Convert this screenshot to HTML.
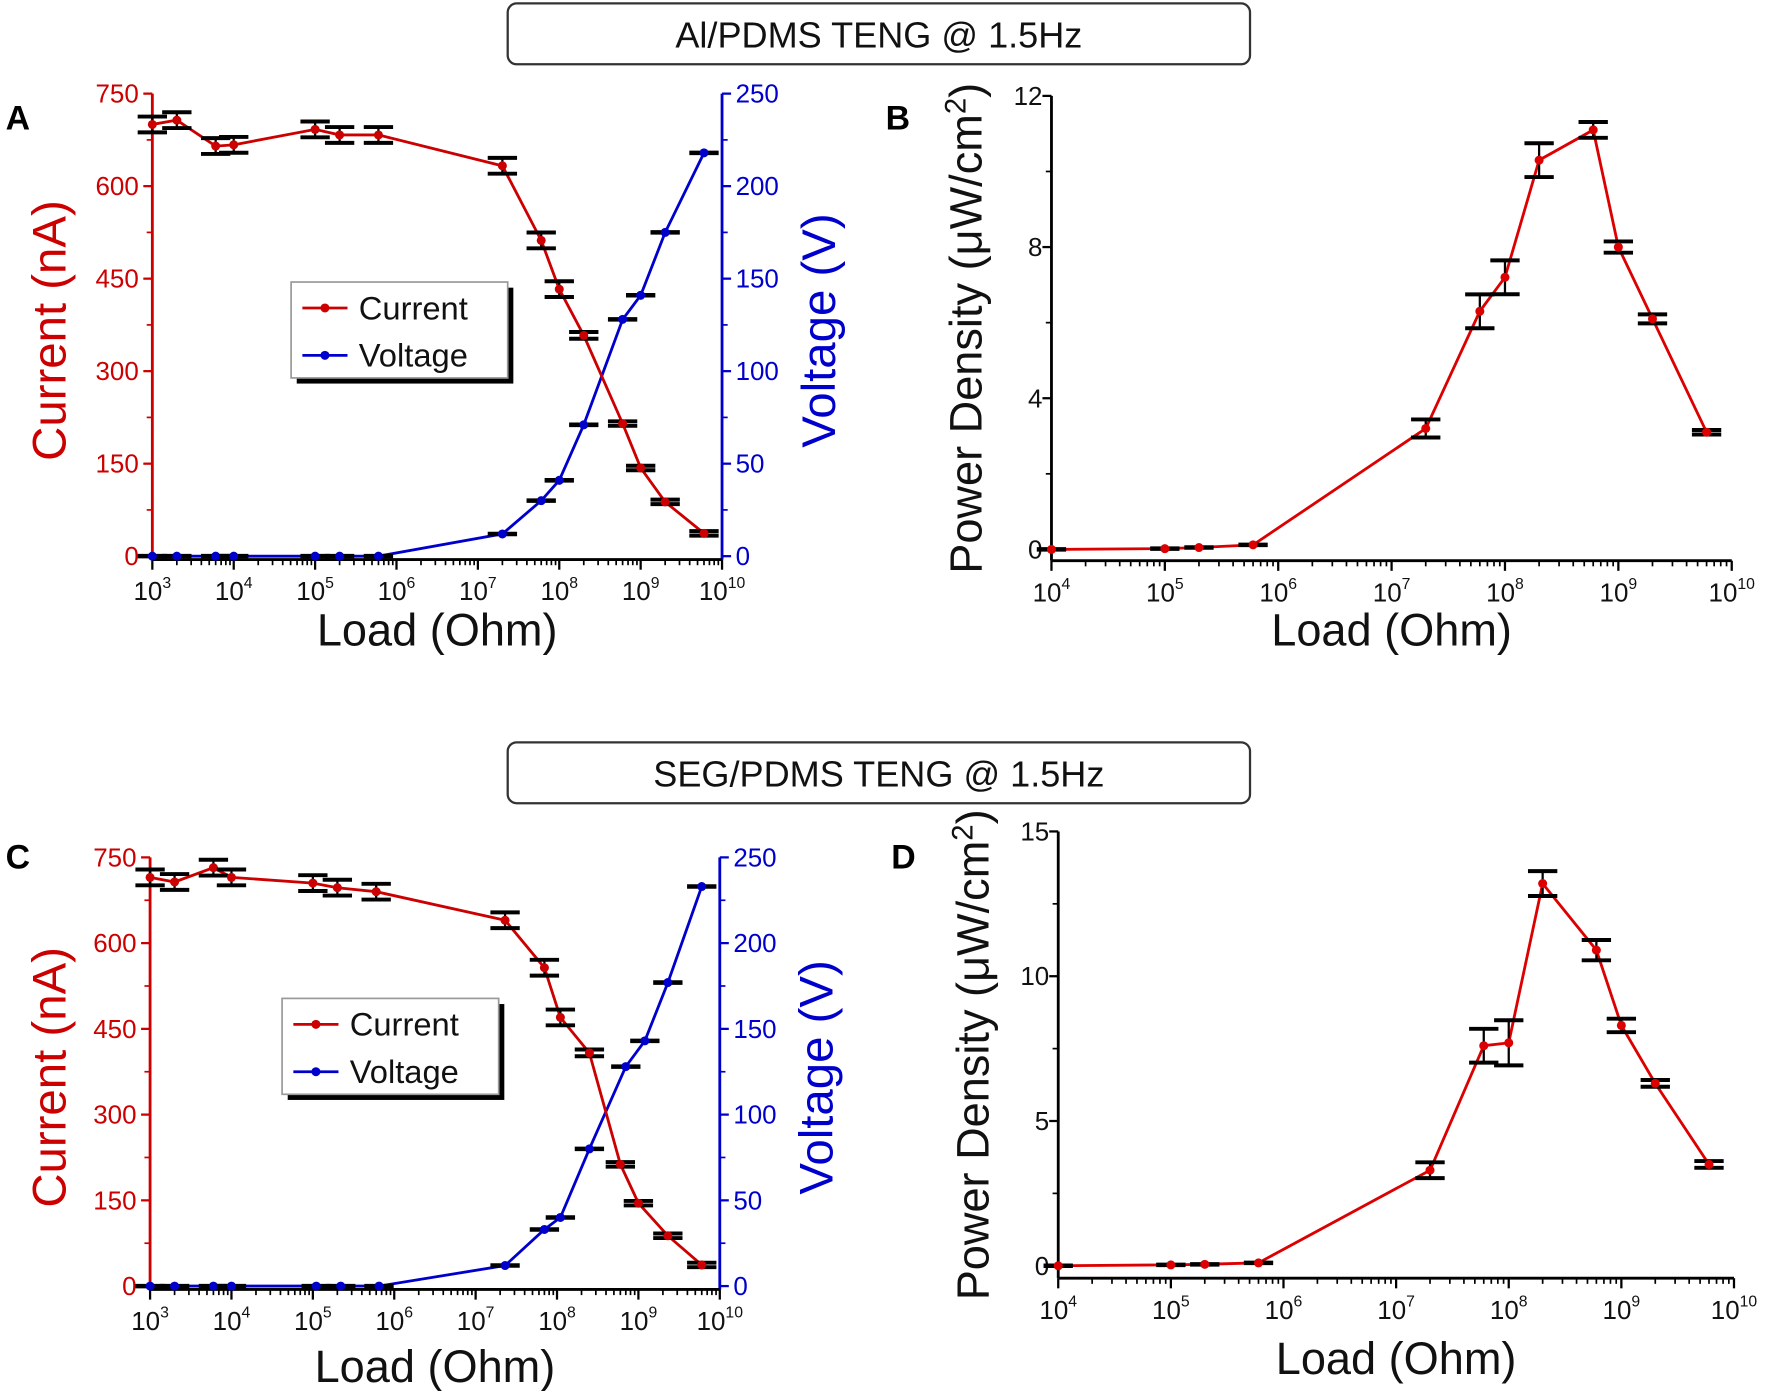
<!DOCTYPE html>
<html><head><meta charset="utf-8"><style>html,body{margin:0;padding:0;background:#fff}svg{display:block}</style></head>
<body>
<svg id="s" xmlns="http://www.w3.org/2000/svg" width="1769" height="1391" viewBox="0 0 1568 1233" font-family="Liberation Sans, Arial, sans-serif"></svg>
<script>
const S=document.getElementById('s');let h='';
function T(x,y,t,sz,col,anc,extra){h+=`<text x="${x}" y="${y}" font-size="${sz}" fill="${col}" text-anchor="${anc||'middle'}" ${extra||''}>${t}</text>`;}
function L(x1,y1,x2,y2,c,w){h+=`<line x1="${x1}" y1="${y1}" x2="${x2}" y2="${y2}" stroke="${c}" stroke-width="${w}"/>`;}
function xaxis(x0,x1,d0,d1,yl){const pd=(x1-x0)/(d1-d0);L(x0,yl,x1,yl,'#000',2.5);
 for(let d=d0;d<=d1;d++){const x=x0+(d-d0)*pd;L(x,yl,x,yl+9,'#000',2);
  T(x,yl+36,`10<tspan dy="-11" font-size="14">${d}</tspan>`,23,'#111');
  if(d<d1)for(let k=2;k<10;k++){const xx=x+Math.log10(k)*pd;L(xx,yl,xx,yl+5,'#000',1.5);}}
 return r=>x0+(Math.log10(r)-d0)*pd;}
function series(fx,fy,data,col,err,ecol){let p=data.map(d=>fx(d[0]).toFixed(1)+','+fy(d[1]).toFixed(1)).join(' ');
 h+=`<polyline points="${p}" fill="none" stroke="${col}" stroke-width="2.5"/>`;
 data.forEach(d=>{const x=fx(d[0]),y=fy(d[1]);const e=d[2]!==undefined?d[2]:err;
  if(e>0){L(x,y-e,x,y+e,ecol,2);L(x-13,y-e,x+13,y-e,ecol,3.5);L(x-13,y+e,x+13,y+e,ecol,3.5);}else{L(x-13,y,x+13,y,ecol,4);}
  h+=`<circle cx="${x}" cy="${y}" r="4" fill="${col}"/>`;});}
function header(y,t){h+=`<rect x="450" y="${y}" width="658" height="54" rx="8" fill="#fff" stroke="#333" stroke-width="2"/>`;T(779,y+39,t,32,'#111','middle');}
function panelIV(o){const{x0,x1,y0,yt,yl,cur,vol,leg,lbl,ly}=o;
 L(x0,yt,x0,yl,'#c00',2.5);L(x1,yt,x1,yl,'#00c',2.5);
 const fc=v=>y0-(v/750)*(y0-yt),fv=v=>y0-(v/250)*(y0-yt);
 for(let v=0;v<=750;v+=150){const y=fc(v);L(x0-8,y,x0,y,'#c00',2);T(x0-12,y+8,v,23,'#c00','end');if(v<750)L(x0-5,fc(v+75),x0,fc(v+75),'#c00',1.5);}
 for(let v=0;v<=250;v+=50){const y=fv(v);L(x1,y,x1+8,y,'#00c',2);T(x1+12,y+8,v,23,'#00c','start');if(v<250)L(x1,fv(v+25),x1+5,fv(v+25),'#00c',1.5);}
 const fx=xaxis(x0,x1,3,10,yl);
 T(58,(yt+y0)/2+5,'Current (nA)',42,'#c00','middle',`transform="rotate(-90 58 ${(yt+y0)/2+5})"`);
 T(x1+100,(yt+y0)/2+5,'Voltage (V)',42,'#00c','middle',`transform="rotate(-90 ${x1+100} ${(yt+y0)/2+5})"`);
 T((x0+x1)/2,ly,'Load (Ohm)',40,'#111');
 series(fx,fv,vol,'#00c',0,'#000');series(fx,fc,cur,'#c00',7,'#000');
 const[lx,lyy]=leg;h+=`<rect x="${lx+5}" y="${lyy+5}" width="192" height="85" fill="#000"/><rect x="${lx}" y="${lyy}" width="192" height="85" fill="#fff" stroke="#999" stroke-width="1.5"/>`;
 L(lx+10,lyy+23,lx+50,lyy+23,'#c00',2.5);h+=`<circle cx="${lx+30}" cy="${lyy+23}" r="4" fill="#c00"/>`;T(lx+60,lyy+33,'Current',29,'#111','start');
 L(lx+10,lyy+65,lx+50,lyy+65,'#00c',2.5);h+=`<circle cx="${lx+30}" cy="${lyy+65}" r="4" fill="#00c"/>`;T(lx+60,lyy+75,'Voltage',29,'#111','start');
 T(5,lbl[1],lbl[0],30,'#000','start','font-weight="bold"');}
function panelP(o){const{x0,x1,y0,yt,yl,max,step,data,lbl,ly,lx}=o;
 L(x0,yt,x0,yl,'#000',2.5);const fy=v=>y0-(v/max)*(y0-yt);
 for(let v=0;v<=max;v+=step){const y=fy(v);L(x0-8,y,x0,y,'#000',2);T(x0-8,y+8,v,23,'#111','end');if(v<max)L(x0-5,fy(v+step/2),x0,fy(v+step/2),'#000',1.5);}
 const fx=xaxis(x0,x1,4,10,yl);
 const cy=(yt+yl)/2;T(x0-62,cy,'Power Density (μW/cm<tspan dy="-14" font-size="26">2</tspan><tspan dy="14">)</tspan>',40,'#111','middle',`transform="rotate(-90 ${x0-62} ${cy})"`);
 T((x0+x1)/2,ly,'Load (Ohm)',40,'#111');
 series(fx,fy,data,'#d00',0,'#000');T(lx,lbl[1],lbl[0],30,'#000','start','font-weight="bold"');}
header(3,'Al/PDMS TENG @ 1.5Hz');header(658,'SEG/PDMS TENG @ 1.5Hz');
panelIV({x0:135,x1:640,y0:493,yt:83,yl:496,ly:572,lbl:['A',115],leg:[258,250],
 cur:[[1e3,700],[2e3,707],[6e3,665],[1e4,667],[1e5,692],[2e5,683],[6e5,683],[2e7,633],[6e7,512],[1e8,433],[2e8,358,3],[6e8,215,2],[1e9,143,2],[2e9,88,2],[6e9,37,2]],
 vol:[[1e3,0],[2e3,0],[6e3,0],[1e4,0],[1e5,0],[2e5,0],[6e5,0],[2e7,12],[6e7,30],[1e8,41],[2e8,71],[6e8,128],[1e9,141],[2e9,175],[6e9,218]]});
panelIV({x0:133,x1:638,y0:1140,yt:760,yl:1143,ly:1225,lbl:['C',770],leg:[250,885],
 cur:[[1e3,715],[2e3,707],[6e3,732],[1e4,715],[1e5,705],[2e5,697],[6e5,690],[2.3e7,640],[7e7,557],[1.1e8,470],[2.5e8,408,3],[6e8,213,2],[1e9,145,2],[2.3e9,88,2],[6e9,37,2]],
 vol:[[1e3,0],[2e3,0],[6e3,0],[1e4,0],[1.1e5,0],[2.2e5,0],[6.5e5,0],[2.3e7,12],[7e7,33],[1.1e8,40],[2.5e8,80],[7e8,128],[1.2e9,143],[2.3e9,177],[6e9,233]]});
panelP({x0:932,x1:1535,y0:487,yt:85,yl:497,max:12,step:4,ly:572,lx:785,lbl:['B',115],
 data:[[1e4,0],[1e5,.02],[2e5,.05],[6e5,.12],[2e7,3.2,8],[6e7,6.3,15],[1e8,7.2,15],[2e8,10.3,15],[6e8,11.1,7],[1e9,8.0,5],[2e9,6.1,4],[6e9,3.1,2]]});
panelP({x0:938,x1:1537,y0:1122,yt:737,yl:1133,max:15,step:5,ly:1218,lx:790,lbl:['D',770],
 data:[[1e4,0],[1e5,.03],[2e5,.05],[6e5,.1],[2e7,3.3,7],[6e7,7.6,15],[1e8,7.7,20],[2e8,13.2,11],[6e8,10.9,9],[1e9,8.3,6],[2e9,6.3,3],[6e9,3.5,3]]});
S.innerHTML=h;
</script>
</body></html>
